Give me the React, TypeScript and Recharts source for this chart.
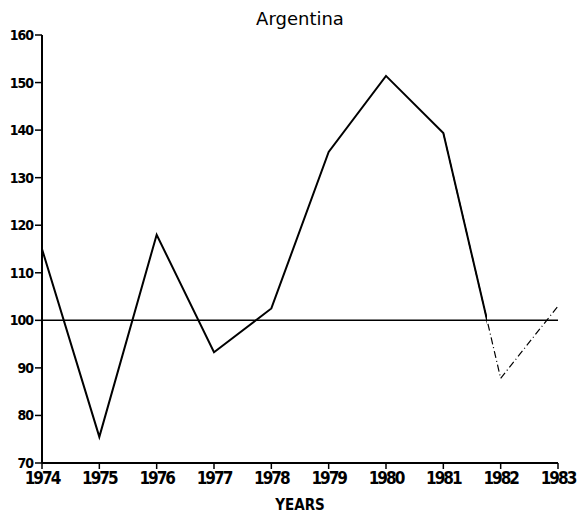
import React from "react";
import { LineChart, Line, XAxis, YAxis, ReferenceLine } from "recharts";

const years = [1974, 1975, 1976, 1977, 1978, 1979, 1980, 1981, 1982, 1983];
const solidValues: (number | null)[] = [115, 75.5, 118, 93.3, 102.5, 135.4, 151.4, 139.4, 87.8, null];
const dashedValues: (number | null)[] = [null, null, null, null, null, null, null, 139.4, 87.8, 103];
const yTicks = [70, 80, 90, 100, 110, 120, 130, 140, 150, 160];

const data = years.map((y, i) => ({ year: y, solid: solidValues[i], dashed: dashedValues[i] }));

const tickFont = "'DejaVu Sans Condensed', 'DejaVu Sans', sans-serif";

export default function App() {
  return (
    <div style={{ position: "absolute", left: 0, top: 0, background: "#fff" }}>
      <LineChart width={580} height={522} data={data} margin={{ top: 35, right: 22, bottom: 9, left: 0 }}>
        <defs>
          <linearGradient id="solidFade" x1="0" y1="0" x2="1" y2="0">
            <stop offset="0" stopColor="#000" stopOpacity={1} />
            <stop offset="0.97" stopColor="#000" stopOpacity={1} />
            <stop offset="0.97" stopColor="#000" stopOpacity={0} />
            <stop offset="1" stopColor="#000" stopOpacity={0} />
          </linearGradient>
        </defs>
        <text x={300} y={25} textAnchor="middle" fontFamily="'DejaVu Sans', sans-serif" fontSize={18} fill="#000">
          Argentina
        </text>
        <XAxis
          dataKey="year"
          type="number"
          domain={[1974, 1983]}
          ticks={years}
          height={50}
          axisLine={{ stroke: "#000", strokeWidth: 2 }}
          tickLine={{ stroke: "#000", strokeWidth: 1.5 }}
          tickSize={6}
          tickMargin={3}
          tick={{ fill: "#000", fontSize: 17, fontWeight: 700, fontFamily: tickFont, letterSpacing: -2 }}
          label={{ value: "YEARS", position: "insideBottom", offset: 3, fill: "#000", fontSize: 15, fontWeight: 700, fontFamily: tickFont }}
        />
        <YAxis
          domain={[70, 160]}
          ticks={yTicks}
          width={42}
          interval={0}
          axisLine={{ stroke: "#000", strokeWidth: 2 }}
          tickLine={{ stroke: "#000", strokeWidth: 1.5 }}
          tickSize={7}
          tickMargin={2}
          tick={{ fill: "#000", fontSize: 14, fontWeight: 700, fontFamily: tickFont, letterSpacing: -1 }}
        />
        <ReferenceLine y={100} stroke="#000" strokeWidth={1.5} />
        <Line
          dataKey="dashed"
          stroke="#000"
          strokeWidth={1.2}
          strokeDasharray="7 3 1 3"
          dot={false}
          isAnimationActive={false}
        />
        <Line
          dataKey="solid"
          stroke="url(#solidFade)"
          strokeWidth={2}
          dot={false}
          isAnimationActive={false}
        />
      </LineChart>
    </div>
  );
}
